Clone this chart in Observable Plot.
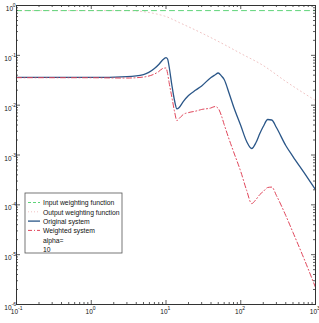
<!DOCTYPE html>
<html>
<head>
<meta charset="utf-8">
<script src="https://cdn.jsdelivr.net/npm/d3@7"></script>
<script src="https://cdn.jsdelivr.net/npm/@observablehq/plot@0.6"></script>
<style>
  body { margin: 0; background: #fff; }
  #chart svg { display: block; font-family: "Liberation Sans Narrow", "Arial Narrow", "Liberation Sans", sans-serif; }
</style>
</head>
<body>
<div id="chart"></div>
<script>
// Frequency grid (rad/s) shared by the two system responses
const freq = [0.1, 1, 3, 5, 7, 8, 9, 10, 10.5, 11, 12, 13, 14, 15, 17, 20, 25, 30, 40, 45, 50,
              55, 60, 70, 80, 100, 120, 140, 160, 180, 200, 230, 260, 300, 400, 500, 700, 1000];

// Magnitude of the original system
const originalMag = [0.036, 0.036, 0.0375, 0.0412, 0.0544, 0.0655, 0.0806, 0.090, 0.0844, 0.0597,
                     0.0248, 0.0124, 0.0084, 0.0090, 0.0118, 0.0156, 0.0201, 0.0243, 0.036, 0.0403,
                     0.0442, 0.0386, 0.0327, 0.0171, 0.0094, 0.0039, 0.00187, 0.00135, 0.00178,
                     0.0027, 0.00373, 0.00516, 0.00504, 0.00356, 0.00155, 0.00093, 0.000446, 0.000203];

// Magnitude of the frequency-weighted system
const weightedMag = [0.0356, 0.0355, 0.035, 0.0367, 0.0422, 0.0473, 0.0544, 0.0557, 0.0432, 0.0285,
                     0.0143, 0.0075, 0.0049, 0.0054, 0.0065, 0.0071, 0.0076, 0.0082, 0.0088, 0.0094,
                     0.0086, 0.0062, 0.0041, 0.00205, 0.00117, 0.000466, 0.000194, 0.000106, 0.000128,
                     0.000161, 0.000185, 0.000223, 0.000227, 0.000154, 0.0000611, 0.0000279,
                     0.0000084, 0.0000022];

// Input weighting function (constant gain)
const inputFreq = [0.1, 1000];
const inputMag = [0.79, 0.79];

// Output weighting function (low-pass)
const outputFreq = [0.1, 3, 7, 10, 15, 30, 60, 100, 200, 400, 1000];
const outputMag = [0.79, 0.79, 0.69, 0.6, 0.456, 0.28, 0.165, 0.109, 0.0624, 0.030, 0.0124];

// Legend entries
const legendLabels = ["Input weighting function", "Output weighting function", "Original system", "Weighted system"];
const legendNote = ["alpha=", "10"];

const xDomain = [0.1, 1000];
const yDomain = [1e-6, 1];

const W = 319, H = 323;
const mL = 16, mT = 5, mR = 4, mB = 19;
const innerW = W - mL - mR, innerH = H - mT - mB;

const isDecade = d => Math.abs(Math.log10(d) - Math.round(Math.log10(d))) < 1e-9;
const xTicks = d3.scaleLog().domain(xDomain).ticks();
const yTicks = d3.scaleLog().domain(yDomain).ticks();
const xMajor = xTicks.filter(isDecade), xMinor = xTicks.filter(d => !isDecade(d));
const yMajor = yTicks.filter(isDecade), yMinor = yTicks.filter(d => !isDecade(d));
const expo = d => String(Math.round(Math.log10(d)));

const toRows = (xs, ys) => xs.map((x, i) => ({x, y: ys[i]}));
const original = toRows(freq, originalMag);
const weighted = toRows(freq, weightedMag);
const inputW = toRows(inputFreq, inputMag);
const outputW = toRows(outputFreq, outputMag);

const colors = {
  input: "#5fd47a",
  output: "#f0c4c4",
  original: "#2a5688",
  weighted: "#e0455a",
  axis: "#333"
};

const tickStyle = {stroke: colors.axis, strokeWidth: 0.8};
const baseFont = 6.5, expFont = 5;

const chart = Plot.plot({
  width: W, height: H,
  marginLeft: mL, marginTop: mT, marginRight: mR, marginBottom: mB,
  x: {type: "log", domain: xDomain, axis: null},
  y: {type: "log", domain: yDomain, axis: null},
  marks: [
    // response curves
    Plot.line(outputW, {x: "x", y: "y", stroke: colors.output, strokeWidth: 1, strokeDasharray: "1,3", curve: "monotone-x"}),
    Plot.line(inputW, {x: "x", y: "y", stroke: colors.input, strokeWidth: 1, strokeDasharray: "5,4"}),
    Plot.line(original, {x: "x", y: "y", stroke: colors.original, strokeWidth: 1.3, curve: "monotone-x"}),
    Plot.line(weighted, {x: "x", y: "y", stroke: colors.weighted, strokeWidth: 1, strokeDasharray: "5,2.5,1,2.5", curve: "monotone-x"}),

    // inward ticks on all four sides
    Plot.tickX(xMinor, {x: d => d, insetTop: innerH - 2, ...tickStyle}),
    Plot.tickX(xMinor, {x: d => d, insetBottom: innerH - 2, ...tickStyle}),
    Plot.tickX(xMajor, {x: d => d, insetTop: innerH - 4, ...tickStyle}),
    Plot.tickX(xMajor, {x: d => d, insetBottom: innerH - 4, ...tickStyle}),
    Plot.tickY(yMinor, {y: d => d, insetRight: innerW - 2, ...tickStyle}),
    Plot.tickY(yMinor, {y: d => d, insetLeft: innerW - 2, ...tickStyle}),
    Plot.tickY(yMajor, {y: d => d, insetRight: innerW - 4, ...tickStyle}),
    Plot.tickY(yMajor, {y: d => d, insetLeft: innerW - 4, ...tickStyle}),

    // y tick labels: "10" with a raised exponent
    Plot.text(yMajor.filter(d => d >= 1), {y: d => d, frameAnchor: "left", text: () => "10", textAnchor: "end", dx: -3.5, dy: 3.5, fontSize: baseFont, fill: "#111"}),
    Plot.text(yMajor.filter(d => d >= 1), {y: d => d, frameAnchor: "left", text: expo, textAnchor: "end", dx: -1, dy: 0, fontSize: expFont, fill: "#111"}),
    Plot.text(yMajor.filter(d => d < 1), {y: d => d, frameAnchor: "left", text: () => "10", textAnchor: "end", dx: -5, dy: 3.5, fontSize: baseFont, fill: "#111"}),
    Plot.text(yMajor.filter(d => d < 1), {y: d => d, frameAnchor: "left", text: expo, textAnchor: "end", dx: -0.5, dy: 0, fontSize: expFont, fill: "#111"}),

    // x tick labels
    Plot.text(xMajor, {x: d => d, frameAnchor: "bottom", text: () => "10", textAnchor: "end", dx: 1.5, dy: 9, fontSize: baseFont, fill: "#111"}),
    Plot.text(xMajor, {x: d => d, frameAnchor: "bottom", text: expo, textAnchor: "start", dx: 1.5, dy: 5, fontSize: expFont, fill: "#111"}),

    Plot.frame({stroke: colors.axis, strokeWidth: 1})
  ]
});

document.getElementById("chart").append(chart);

// Legend box in the lower-left corner of the axes
const svg = d3.select(chart);
const lg = svg.append("g").attr("transform", "translate(25,193)")
  .attr("text-anchor", "start");
lg.append("rect").attr("width", 97).attr("height", 60)
  .attr("fill", "#fff").attr("stroke", "#555").attr("stroke-width", 0.8);
const sampleStyles = [
  {stroke: colors.input, dash: "3,2"},
  {stroke: colors.output, dash: "1,2"},
  {stroke: colors.original, dash: null},
  {stroke: colors.weighted, dash: "4,2,1,2"}
];
const rowY = i => 9.5 + i * 9.3;
// condensed label text, same glyph height
const addLabel = (t, i) =>
  lg.append("text").attr("transform", `translate(18,${rowY(i)}) scale(0.85,1)`)
    .attr("dy", "0.35em").attr("text-anchor", "start")
    .attr("font-size", 8).attr("fill", "#111").text(t);
legendLabels.forEach((label, i) => {
  const s = sampleStyles[i];
  lg.append("line").attr("x1", 3).attr("x2", 15).attr("y1", rowY(i)).attr("y2", rowY(i))
    .attr("stroke", s.stroke).attr("stroke-width", i === 2 ? 1.3 : 1)
    .attr("stroke-dasharray", s.dash);
  addLabel(label, i);
});
legendNote.forEach((t, j) => addLabel(t, 4 + j));
</script>
</body>
</html>
